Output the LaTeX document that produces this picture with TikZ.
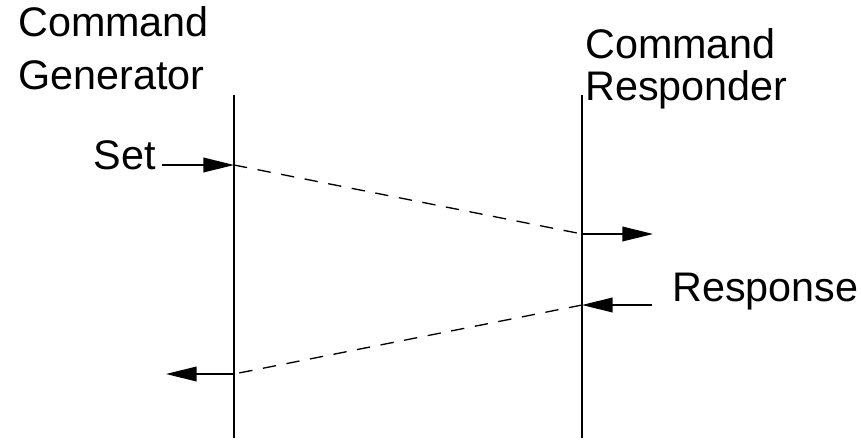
\documentclass[tikz,border=0pt]{standalone}
\usepackage{fontspec}
\setmainfont{Liberation Sans}
\usetikzlibrary{arrows.meta,positioning}

\begin{document}
\begin{tikzpicture}[x=0.75pt,y=-0.75pt,font=\fontsize{31}{40}\selectfont,>={Triangle[length=23pt,width=11pt]},
  lifeline/.style={line width=1.3pt},
  msg/.style={line width=1.3pt,->},
  trip/.style={line width=1pt,dash pattern=on 10pt off 8pt},
  lbl/.style={inner sep=0pt,align=left}]
  \useasboundingbox (0,0) rectangle (861,442);
  % the two lifelines
  \coordinate (gtop) at (234,95);
  \coordinate (gbot) at (234,438);
  \coordinate (rtop) at (582,95);
  \coordinate (rbot) at (582,438);
  \draw[lifeline] (gtop) -- (gbot);
  \draw[lifeline] (rtop) -- (rbot);
  \node[lbl,anchor=north west] (gen) at (18,6) {Command\\Generator};
  \node[lbl,anchor=north west] (resp) at (585,28) {Command\\[-8pt]Responder};
  % request
  \coordinate (sin) at (234,165);
  \coordinate (rin) at (582,234);
  \coordinate (rout) at (653,234);
  \node[lbl,anchor=east] (set) at (156,155) {Set};
  \draw[msg] (set.east |- sin) ++(6,0) coordinate (sstart) -- (sin);
  \draw[trip] (sin) -- (rin);
  \draw[msg] (rin) -- (rout);
  % response
  \coordinate (rback) at (582,305);
  \coordinate (gin) at (234,374);
  \coordinate (gout) at (166,374);
  \node[lbl,anchor=west] (respl) at (672,292) {Response};
  \coordinate (rsrc) at (652,305);
  \draw[msg] (rsrc) -- (rback);
  \draw[trip] (rback) -- (gin);
  \draw[msg] (gin) -- (gout);
\end{tikzpicture}
\end{document}
